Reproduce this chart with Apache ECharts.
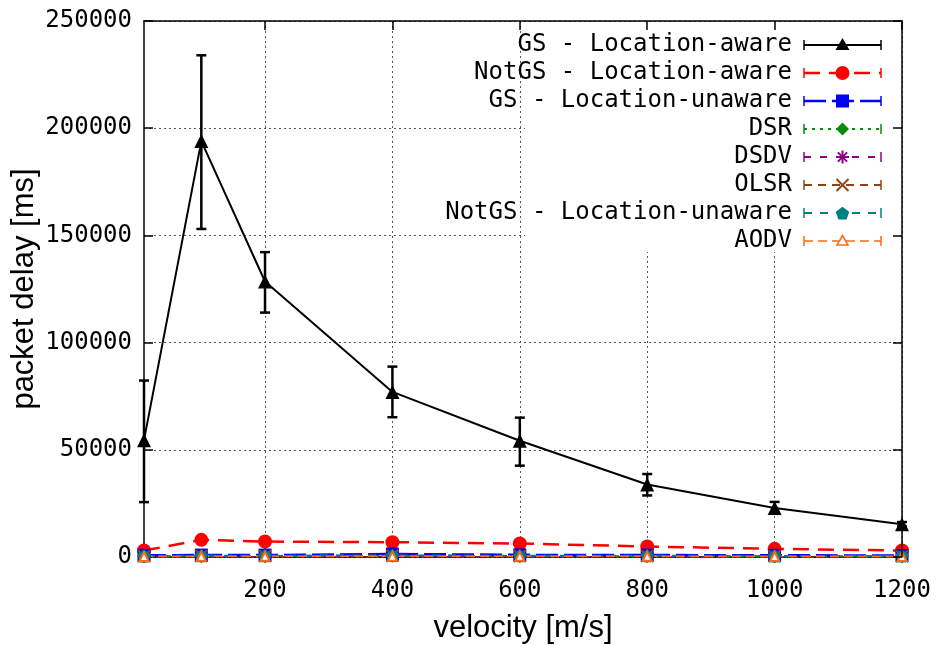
<!DOCTYPE html>
<html>
<head>
<meta charset="utf-8">
<script src="https://cdn.jsdelivr.net/npm/echarts@6/dist/echarts.min.js"></script>
<style>
  html, body { margin: 0; padding: 0; background: #fff; }
  #chart { width: 938px; height: 645px; }
</style>
</head>
<body>
<div id="chart"></div>
<script>
// Packet delay vs. node velocity for eight routing schemes
const velocity = [10, 100, 200, 400, 600, 800, 1000, 1200];
const xTickValues = [200, 400, 600, 800, 1000, 1200];

const gsAware      = [54500, 194000, 128500, 77000, 54200, 33800, 22900, 15300];
const gsAwareLow   = [25600, 153000, 114000, 65200, 42600, 28700, 20600, 14300];
const gsAwareHigh  = [82300, 234000, 142200, 88800, 65000, 38700, 25700, 16300];
const notGsAware   = [3000, 8000, 7200, 6900, 6300, 4900, 3800, 3000];
const gsUnaware    = [800, 900, 900, 1400, 1000, 900, 800, 700];
const dsr          = [300, 400, 400, 500, 400, 400, 300, 300];
const dsdv         = [400, 500, 500, 600, 500, 500, 400, 400];
const olsr         = [350, 450, 450, 550, 450, 450, 350, 350];
const notGsUnaware = [500, 600, 600, 700, 600, 600, 500, 500];
const aodv         = [200, 300, 300, 400, 300, 300, 250, 200];

const seriesNames = [
  'GS - Location-aware',
  'NotGS - Location-aware',
  'GS - Location-unaware',
  'DSR',
  'DSDV',
  'OLSR',
  'NotGS - Location-unaware',
  'AODV'
];
const seriesValues = [gsAware, notGsAware, gsUnaware, dsr, dsdv, olsr, notGsUnaware, aodv];

const MONO = '"DejaVu Sans Mono", "Liberation Mono", monospace';
const SANS = '"Liberation Sans", Arial, sans-serif';

const PATH_STAR = 'M0,5L10,5M5,0L5,10M1.6,1.6L8.4,8.4M8.4,1.6L1.6,8.4';
const PATH_X = 'M0,0L10,10M10,0L0,10';
const PATH_PENT = 'M5,0L10,3.8L8.1,10L1.9,10L0,3.8Z';

// line/marker look for each series, in drawing order
const styles = [
  { color: '#000000', dash: 'solid',  width: 2,   symbol: 'triangle',   size: 14, kind: 'tri' },
  { color: '#ff0000', dash: [16, 9],  width: 2.5, symbol: 'circle',     size: 14, kind: 'circle' },
  { color: '#0000ff', dash: [22, 6],  width: 2.5, symbol: 'rect',       size: 13, kind: 'square' },
  { color: '#0a8a0a', dash: [3, 5],   width: 2,   symbol: 'diamond',    size: 13, kind: 'diamond' },
  { color: '#8b008b', dash: [7, 9],   width: 2,   symbol: 'path://' + PATH_STAR, size: 13, kind: 'star', stroke: true },
  { color: '#8b4513', dash: [8, 6],   width: 2,   symbol: 'path://' + PATH_X,    size: 12, kind: 'x', stroke: true },
  { color: '#008080', dash: [8, 8],   width: 2,   symbol: 'path://' + PATH_PENT, size: 13, kind: 'pent' },
  { color: '#ff6a13', dash: [9, 5],   width: 1.5, symbol: 'emptyTriangle', size: 9, kind: 'otri' }
];

const lineSeries = seriesNames.map((name, i) => {
  const st = styles[i];
  const itemStyle = st.stroke
    ? { color: 'rgba(0,0,0,0)', borderColor: st.color, borderWidth: 2 }
    : { color: st.color };
  return {
    name: name,
    type: 'line',
    data: velocity.map((v, k) => [v, seriesValues[i][k]]),
    symbol: st.symbol,
    symbolSize: st.size,
    showAllSymbol: true,
    lineStyle: { color: st.color, width: st.width, type: st.dash },
    itemStyle: itemStyle,
    animation: false,
    z: 3
  };
});

// error bars on the GS - Location-aware curve
const errorBarSeries = {
  type: 'custom',
  name: 'GS - Location-aware error',
  data: velocity.map((v, k) => [v, gsAwareLow[k], gsAwareHigh[k]]),
  encode: { x: 0, y: [1, 2] },
  z: 3,
  animation: false,
  renderItem: function (params, api) {
    const x = api.value(0);
    const lo = api.coord([x, api.value(1)]);
    const hi = api.coord([x, api.value(2)]);
    const cap = 5;
    const style = { stroke: '#000', lineWidth: 2.5 };
    return {
      type: 'group',
      children: [
        { type: 'line', shape: { x1: lo[0], y1: lo[1], x2: hi[0], y2: hi[1] }, style: style },
        { type: 'line', shape: { x1: lo[0] - cap, y1: lo[1], x2: lo[0] + cap, y2: lo[1] }, style: style },
        { type: 'line', shape: { x1: hi[0] - cap, y1: hi[1], x2: hi[0] + cap, y2: hi[1] }, style: style }
      ]
    };
  }
};

// key: text on the left, sample line with end caps and marker on the right
function strokeLines(segs, c) {
  return {
    type: 'group',
    children: segs.map(s => ({ type: 'line', z: 11, shape: { x1: s[0], y1: s[1], x2: s[2], y2: s[3] },
                               style: { stroke: c, lineWidth: 2 } }))
  };
}
function keyMarker(st, cx, cy) {
  const c = st.color;
  switch (st.kind) {
    case 'tri':
      return { type: 'polygon', shape: { points: [[cx, cy - 7], [cx + 7, cy + 5], [cx - 7, cy + 5]] }, style: { fill: c } };
    case 'circle':
      return { type: 'circle', shape: { cx: cx, cy: cy, r: 7 }, style: { fill: c } };
    case 'square':
      return { type: 'rect', shape: { x: cx - 6.5, y: cy - 6.5, width: 13, height: 13 }, style: { fill: c } };
    case 'diamond':
      return { type: 'polygon', shape: { points: [[cx, cy - 6.5], [cx + 6.5, cy], [cx, cy + 6.5], [cx - 6.5, cy]] }, style: { fill: c } };
    case 'star': {
      const r = 6.5, d = 4.6;
      return strokeLines([[cx - r, cy, cx + r, cy], [cx, cy - r, cx, cy + r],
                          [cx - d, cy - d, cx + d, cy + d], [cx + d, cy - d, cx - d, cy + d]], c);
    }
    case 'x': {
      const r = 6;
      return strokeLines([[cx - r, cy - r, cx + r, cy + r], [cx + r, cy - r, cx - r, cy + r]], c);
    }
    case 'pent': {
      const r = 7;
      const pts = [];
      for (let k = 0; k < 5; k++) {
        const a = -Math.PI / 2 + k * 2 * Math.PI / 5;
        pts.push([cx + r * Math.cos(a), cy + 0.8 + r * Math.sin(a)]);
      }
      return { type: 'polygon', shape: { points: pts }, style: { fill: c } };
    }
    case 'otri':
    default:
      return { type: 'polygon', shape: { points: [[cx, cy - 5.5], [cx + 5.5, cy + 4], [cx - 5.5, cy + 4]] }, style: { fill: '#fff', stroke: c, lineWidth: 1.5 } };
  }
}

const keyTop = 45, keyStep = 28, keyTextRight = 792, keyL = 804, keyR = 881;
const keyElements = [
  // opaque key background
  { type: 'rect', z: 1, shape: { x: 525, y: 22, width: 376, height: 230 }, style: { fill: '#fff' } }
];
seriesNames.forEach((name, i) => {
  const st = styles[i];
  const y = keyTop + i * keyStep;
  const mid = (keyL + keyR) / 2;
  keyElements.push(
    { type: 'text', z: 10, x: keyTextRight, y: y,
      style: { text: name, font: '24px ' + MONO, fill: '#000', align: 'right', verticalAlign: 'middle' } },
    { type: 'line', z: 10, shape: { x1: keyL, y1: y, x2: keyR, y2: y },
      style: { stroke: st.color, lineWidth: st.width, lineDash: st.dash === 'solid' ? null : st.dash } },
    { type: 'line', z: 10, shape: { x1: keyL, y1: y - 5, x2: keyL, y2: y + 5 }, style: { stroke: st.color, lineWidth: 1.5 } },
    { type: 'line', z: 10, shape: { x1: keyR, y1: y - 5, x2: keyR, y2: y + 5 }, style: { stroke: st.color, lineWidth: 1.5 } },
    Object.assign({ z: 11 }, keyMarker(st, mid, y))
  );
});

const axisLineStyle = { color: '#000', width: 1.5 };
const gridLineStyle = { color: '#555', width: 1, type: [2, 3] };

const option = {
  backgroundColor: '#fff',
  animation: false,
  grid: { left: 144, top: 21, width: 758, height: 536, containLabel: false, outerBoundsMode: 'none' },
  xAxis: [
    {
      type: 'value', min: 10, max: 1200, position: 'bottom',
      axisLine: { show: true, onZero: false, lineStyle: axisLineStyle },
      axisTick: { show: true, inside: true, length: 9, customValues: xTickValues, lineStyle: axisLineStyle },
      axisLabel: { customValues: xTickValues, margin: 22, color: '#000', fontSize: 24, fontFamily: MONO,
                   formatter: v => String(v) },
      splitLine: { show: true, lineStyle: gridLineStyle },
      name: 'velocity [m/s]', nameLocation: 'middle', nameGap: 56, nameMoveOverlap: false,
      nameTextStyle: { color: '#000', fontSize: 31, fontFamily: SANS }
    },
    {
      type: 'value', min: 10, max: 1200, position: 'top', z: 5,
      axisLine: { show: true, onZero: false, lineStyle: axisLineStyle },
      axisTick: { show: true, inside: true, length: 9, customValues: xTickValues, lineStyle: axisLineStyle },
      axisLabel: { show: false, customValues: xTickValues },
      splitLine: { show: false }
    }
  ],
  yAxis: [
    {
      type: 'value', min: 0, max: 250000, interval: 50000, position: 'left',
      axisLine: { show: true, onZero: false, lineStyle: axisLineStyle },
      axisTick: { show: true, inside: true, length: 9, lineStyle: axisLineStyle },
      axisLabel: { margin: 12, color: '#000', fontSize: 24, fontFamily: MONO, formatter: v => String(v) },
      splitLine: { show: true, lineStyle: gridLineStyle },
      name: 'packet delay [ms]', nameLocation: 'middle', nameGap: 104, nameMoveOverlap: false,
      nameTextStyle: { color: '#000', fontSize: 31, fontFamily: SANS }
    },
    {
      type: 'value', min: 0, max: 250000, interval: 50000, position: 'right', z: 5,
      axisLine: { show: true, onZero: false, lineStyle: axisLineStyle },
      axisTick: { show: true, inside: true, length: 9, lineStyle: axisLineStyle },
      axisLabel: { show: false },
      splitLine: { show: false }
    }
  ],
  graphic: { elements: keyElements },
  series: [lineSeries[0], errorBarSeries].concat(lineSeries.slice(1))
};

const chart = echarts.init(document.getElementById('chart'), null, { renderer: 'canvas' });
chart.setOption(option);
</script>
</body>
</html>
